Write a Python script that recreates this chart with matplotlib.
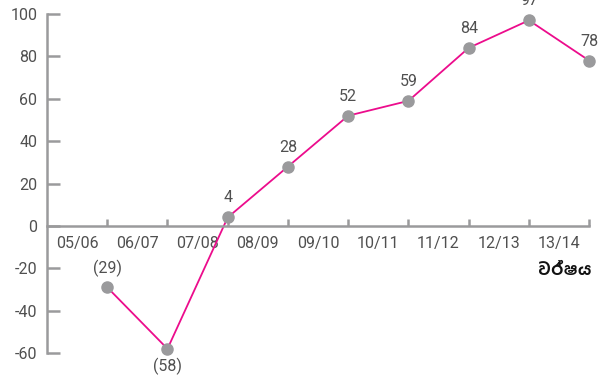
import matplotlib
matplotlib.use("Agg")
import matplotlib.pyplot as plt

# data
years = ["05/06", "06/07", "07/08", "08/09", "09/10", "10/11", "11/12", "12/13", "13/14"]
values = [-29, -58, 4, 28, 52, 59, 84, 97, 78]
labels = ["(29)", "(58)", "4", "28", "52", "59", "84", "97", "78"]
yticks = [-60, -40, -20, 0, 20, 40, 60, 80, 100]

gray = "#9a9a9c"
txt = "#505050"
pink = "#ec0c8c"

plt.rcParams["font.family"] = ["Roboto", "DejaVu Sans"]

fig = plt.figure(figsize=(6.1, 3.8), dpi=100)
ax = fig.add_axes([47 / 610, 10 / 380, 553 / 610, 364.5 / 380])

xs = list(range(1, len(years) + 1))
ax.plot(xs, values, color=pink, lw=1.3, zorder=2)
ax.plot(xs, values, "o", color=gray, ms=8, zorder=3)

for x, v, lab in zip(xs, values, labels):
    off = -13 if v == -58 else 14
    ax.annotate(lab, (x, v), xytext=(0, off), textcoords="offset points",
                ha="center", va="center", fontsize=11.5, color=txt,
                annotation_clip=False)

ax.set_xlim(0, 9.18)
ax.set_ylim(-68, 104)

for s in ["top", "right"]:
    ax.spines[s].set_visible(False)
ax.spines["left"].set_bounds(-60, 100)
ax.spines["bottom"].set_position(("data", 0))
ax.spines["bottom"].set_bounds(0, 9)
for s in ["left", "bottom"]:
    ax.spines[s].set_color(gray)
    ax.spines[s].set_linewidth(1.8)

ax.set_yticks(yticks)
ax.set_yticklabels([str(t) for t in yticks])
ax.tick_params(axis="y", direction="in", length=9.5, width=1.8, color=gray,
               labelcolor=txt, labelsize=11.5, pad=7)

ax.set_xticks(xs)
ax.set_xticklabels([])
ax.tick_params(axis="x", which="major", direction="in", length=5, width=1.8, color=gray)
ax.set_xticks([x - 0.5 for x in xs], minor=True)
ax.set_xticklabels(years, minor=True)
ax.tick_params(axis="x", which="minor", length=0, labelcolor=txt, labelsize=11.5, pad=7)

ax.text(9.05, -21, "වර්ෂය", ha="right", va="center", fontsize=12,
        fontweight="bold", family=["Hind Colombo", "Noto Sans Sinhala", "DejaVu Sans"],
        color="#111111")

fig.savefig("out.png")
